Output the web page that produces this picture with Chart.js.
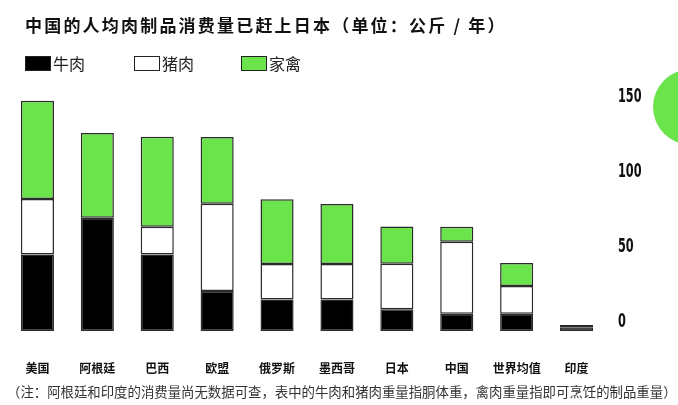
<!DOCTYPE html>
<html>
<head>
<meta charset="utf-8">
<script src="https://cdn.jsdelivr.net/npm/chart.js@4/dist/chart.umd.min.js"></script>
<style>
    body { margin: 0; background: #fff; font-family: "Noto Sans CJK SC", sans-serif; }
    #wrap { position: relative; width: 678px; height: 405px; overflow: hidden; }
    #title { position: absolute; left: 25px; top: 12px; font-size: 17px; font-weight: bold; color: #111; letter-spacing: 2.2px; white-space: nowrap; }
    #legend { position: absolute; left: 25px; top: 51px; height: 24px; }
    .item { position: absolute; top: 0; display: flex; align-items: center; font-size: 16px; color: #222; white-space: nowrap; }
    .box { width: 24px; height: 13px; border: 1.5px solid #222; margin-right: 2px; }
    #note { position: absolute; left: 7px; top: 381px; font-size: 13.4px; color: #333; white-space: nowrap; }
    #dot { position: absolute; left: 653px; top: 69px; width: 76px; height: 76px; border-radius: 50%; background: #6be34a; }
    #graph { position: absolute; left: 0; top: 0; }
</style>
</head>
<body>
<div id="wrap">
    <canvas id="graph" width="678" height="405"></canvas>
    <div id="title">中国的人均肉制品消费量已赶上日本（单位：公斤 / 年）</div>
    <div id="legend"></div>
    <div id="dot"></div>
    <div id="note">（注：阿根廷和印度的消费量尚无数据可查，表中的牛肉和猪肉重量指胴体重，禽肉重量指即可烹饪的制品重量）</div>
</div>
<script>
const countries = ['美国', '阿根廷', '巴西', '欧盟', '俄罗斯', '墨西哥', '日本', '中国', '世界均值', '印度'];
const beef = [51, 75.5, 51, 26.7, 21, 21, 14.5, 11.5, 11.5, 2.5];
const pork = [37, null, 18.5, 58.2, 23.7, 23.7, 30.4, 48, 18.5, null];
const poultry = [65.5, 56.5, 60, 44.5, 43.1, 40, 24.7, 10, 15.3, 1.5];
const seriesNames = ['牛肉', '猪肉', '家禽'];
const seriesColors = ['#000000', '#ffffff', '#6be34a'];
const yTicks = [0, 50, 100, 150];

const graph = document.getElementById('graph');

// легенда вручну, щоб відступи були як на картинці
const legend = document.getElementById('legend');
const legendX = [0, 109, 216];
seriesNames.forEach((name, i) => {
    const item = document.createElement('div');
    item.className = 'item';
    item.style.left = legendX[i] + 'px';
    item.innerHTML = '<span class="box" style="background:' + seriesColors[i] + '"></span>' + name;
    legend.appendChild(item);
});

// вузькі цифри на правій осі (стиснутий шрифт, якого немає)
const narrowTicks = {
    id: 'narrowTicks',
    afterDraw(chart) {
        const y = chart.scales.y;
        const ctx = chart.ctx;
        ctx.save();
        ctx.fillStyle = '#111';
        ctx.font = 'bold 19px "DejaVu Sans Condensed", sans-serif';
        ctx.textBaseline = 'middle';
        ctx.textAlign = 'left';
        y.ticks.forEach(t => {
            const py = y.getPixelForValue(t.value) - 9;
            ctx.save();
            ctx.translate(chart.chartArea.right + 11.5, py);
            ctx.scale(0.66, 1);
            ctx.fillText(String(t.value), 0, 0);
            ctx.restore();
        });
        ctx.restore();
    }
};

function makeSet(i, data) {
    return {
        label: seriesNames[i],
        data: data,
        backgroundColor: seriesColors[i],
        borderColor: '#2a2a2a',
        borderWidth: 1.5,
        borderSkipped: false,
        categoryPercentage: 0.8,
        barPercentage: 0.69
    };
}

new Chart(graph, {
    type: 'bar',
    data: {
        labels: countries,
        datasets: [makeSet(0, beef), makeSet(1, pork), makeSet(2, poultry)]
    },
    options: {
        responsive: false,
        animation: false,
        layout: {
            padding: { top: 98.5, left: 7.5, right: 0, bottom: 29.6 }
        },
        plugins: {
            legend: { display: false },
            tooltip: { enabled: false }
        },
        scales: {
            x: {
                stacked: true,
                afterFit: scale => {
                    scale.height = 44.4;
                    scale.paddingLeft = 0;
                    scale.paddingRight = 0;
                },
                grid: { display: false, drawTicks: false },
                border: { display: false },
                ticks: {
                    padding: 30,
                    maxRotation: 0,
                    autoSkip: false,
                    color: '#111',
                    font: { family: '"Noto Sans CJK SC", sans-serif', size: 12, weight: 'bold' }
                }
            },
            y: {
                stacked: true,
                position: 'right',
                min: 0,
                max: 155,
                afterBuildTicks: scale => {
                    scale.ticks = yTicks.map(v => ({ value: v }));
                },
                afterFit: scale => {
                    scale.width = 71.5;
                    scale.paddingTop = 0;
                    scale.paddingBottom = 0;
                },
                grid: { display: false, drawTicks: false },
                border: { display: false },
                ticks: { display: false }
            }
        }
    },
    plugins: [narrowTicks]
});
</script>
</body>
</html>
